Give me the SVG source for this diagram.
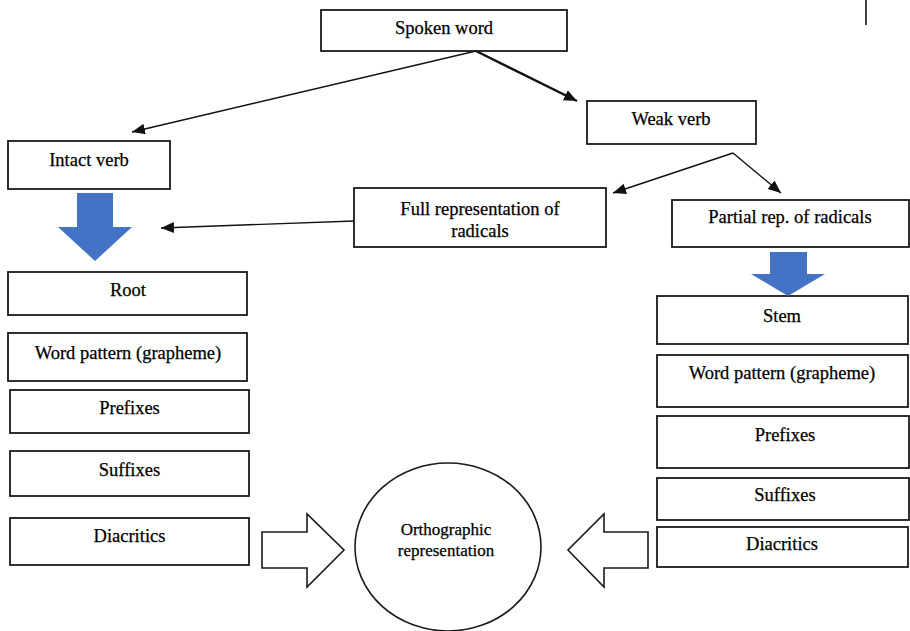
<svg xmlns="http://www.w3.org/2000/svg" width="910" height="631" viewBox="0 0 910 631">
<defs>
<style>
.box{fill:#fff;stroke:#1a1a1a;stroke-width:1.8}
.t{font-family:'Liberation Serif',serif;font-size:18.5px;fill:#000;stroke:#000;stroke-width:0.25;text-anchor:middle}
.ts{font-size:17px}
.ln{fill:none;stroke:#111;stroke-width:1.4}
.thick{stroke-width:2.4}
.blue{fill:#4472C4;stroke:none}
.hollow{fill:#fff;stroke:#1a1a1a;stroke-width:1.6;stroke-linejoin:miter}
</style>
<marker id="ah" markerUnits="userSpaceOnUse" markerWidth="14" markerHeight="12" refX="13" refY="5.5" orient="auto">
<path d="M0,0 L13,5.5 L0,11 z" fill="#111"/>
</marker>
</defs>
<rect width="910" height="631" fill="#fff"/>
<line x1="866" y1="0" x2="866" y2="25" stroke="#111" stroke-width="1.6"/>

<g id="spoken-word"><rect class="box" x="321" y="10" width="246" height="41"/><text class="t" x="444" y="34">Spoken word</text></g>
<g id="intact-verb"><rect class="box" x="8" y="141" width="162" height="48"/><text class="t" x="89" y="166">Intact verb</text></g>
<g id="weak-verb"><rect class="box" x="587" y="101" width="169" height="43"/><text class="t" x="671" y="125">Weak verb</text></g>
<g id="full-rep"><rect class="box" x="354" y="188" width="252" height="59"/><text class="t" x="480" y="215">Full representation of</text><text class="t" x="480" y="237">radicals</text></g>
<g id="partial-rep"><rect class="box" x="672" y="200" width="237" height="47"/><text class="t" x="790" y="223">Partial rep. of radicals</text></g>

<g id="left-root"><rect class="box" x="8" y="272" width="239" height="43"/><text class="t" x="128" y="296">Root</text></g>
<g id="left-pattern"><rect class="box" x="8" y="333" width="239" height="48"/><text class="t" x="128" y="359">Word pattern (grapheme)</text></g>
<g id="left-prefixes"><rect class="box" x="10" y="390" width="239" height="43"/><text class="t" x="129.5" y="414">Prefixes</text></g>
<g id="left-suffixes"><rect class="box" x="10" y="451" width="239" height="45"/><text class="t" x="129.5" y="476">Suffixes</text></g>
<g id="left-diacritics"><rect class="box" x="10" y="518" width="239" height="47"/><text class="t" x="129.5" y="542">Diacritics</text></g>

<g id="right-stem"><rect class="box" x="657" y="296" width="251" height="48"/><text class="t" x="782" y="322">Stem</text></g>
<g id="right-pattern"><rect class="box" x="657" y="355" width="251" height="52"/><text class="t" x="782" y="379">Word pattern (grapheme)</text></g>
<g id="right-prefixes"><rect class="box" x="657" y="416" width="252" height="52"/><text class="t" x="785" y="441">Prefixes</text></g>
<g id="right-suffixes"><rect class="box" x="657" y="478" width="252" height="42"/><text class="t" x="785" y="501">Suffixes</text></g>
<g id="right-diacritics"><rect class="box" x="657" y="527" width="251" height="40"/><text class="t" x="782" y="550">Diacritics</text></g>

<g id="orthographic"><ellipse cx="448" cy="547" rx="93" ry="84" fill="#fff" stroke="#1a1a1a" stroke-width="1.6"/><text class="t ts" x="446" y="535">Orthographic</text><text class="t ts" x="446" y="556">representation</text></g>

<g id="connectors">
<line class="ln" x1="476" y1="51" x2="132" y2="132" marker-end="url(#ah)"/>
<line class="ln thick" x1="476" y1="51" x2="577" y2="101" marker-end="url(#ah)"/>
<line class="ln" x1="733" y1="153" x2="613" y2="193" marker-end="url(#ah)"/>
<line class="ln" x1="733" y1="153" x2="781" y2="193" marker-end="url(#ah)"/>
<line class="ln" x1="354" y1="221" x2="161" y2="228" marker-end="url(#ah)"/>
<polygon class="blue" points="77,193 113,193 113,227 132,227 95,261 58,227 77,227"/>
<polygon class="blue" points="770,252 807,252 807,274 825,274 788,296 751,274 770,274"/>
<polygon class="hollow" points="262,532 307,532 307,514 344,550 307,587 307,568 262,568"/>
<polygon class="hollow" points="648,532 604,532 604,514 568,550 604,587 604,568 648,568"/>
</g>
</svg>
